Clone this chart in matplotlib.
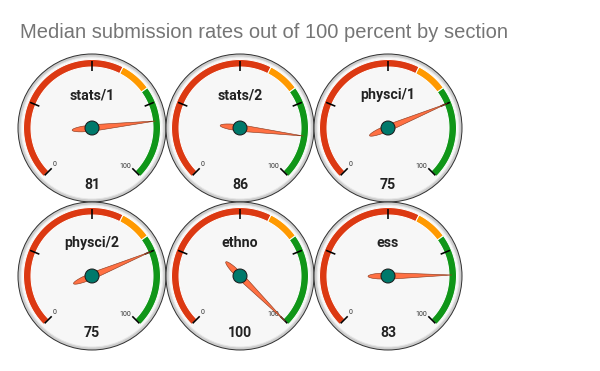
import numpy as np
import matplotlib
matplotlib.use("Agg")
import matplotlib.pyplot as plt
from matplotlib.patches import Polygon, Circle

# gauge data
sections = ['stats/1', 'stats/2', 'physci/1', 'physci/2', 'ethno', 'ess']
rates = [81, 86, 75, 75, 100, 83]
gauge_min, gauge_max = 0, 100
bands = [(0, 60, '#dc3912'), (60, 70, '#ff9900'), (70, 100, '#109618')]
major_ticks = [0, 25, 50, 75, 100]

title = 'Median submission rates out of 100 percent by section'

fig = plt.figure(figsize=(6, 3.71), dpi=100)
ax = fig.add_axes([0, 0, 1, 1])
ax.set_xlim(0, 600)
ax.set_ylim(371, 0)
ax.axis('off')
PX = 0.72  # one pixel in points


def ang(v):
    # degrees from top, clockwise
    return np.radians(-135 + 270 * (v - gauge_min) / (gauge_max - gauge_min))


def pt(cx, cy, r, a):
    return cx + r * np.sin(a), cy - r * np.cos(a)


def arc(cx, cy, r0, r1, v0, v1):
    t = np.linspace(ang(v0), ang(v1), 60)
    outer = np.column_stack([cx + r1 * np.sin(t), cy - r1 * np.cos(t)])
    inner = np.column_stack([cx + r0 * np.sin(t[::-1]), cy - r0 * np.cos(t[::-1])])
    return np.vstack([outer, inner])


def gauge(cx, cy, label, value):
    ax.add_patch(Circle((cx, cy), 74, fc='#cccccc', ec='#333333', lw=1 * PX))
    ax.add_patch(Circle((cx, cy), 71, fc='#f7f7f7', ec='#e6e6e6', lw=1 * PX))
    for v0, v1, c in bands:
        ax.add_patch(Polygon(arc(cx, cy, 61, 68.5, v0, v1), closed=True,
                             fc=c, ec='white', lw=1 * PX))
    for v in major_ticks:
        a = ang(v)
        x0, y0 = pt(cx, cy, 57, a)
        x1, y1 = pt(cx, cy, 67, a)
        ax.plot([x0, x1], [y0, y1], color='black', lw=1.6 * PX, solid_capstyle='butt')
    ax.text(cx - 39, cy + 38, str(gauge_min), fontsize=5, ha='left', va='baseline',
            family='Roboto', color='#333333')
    ax.text(cx + 39, cy + 40, str(gauge_max), fontsize=5, ha='right', va='baseline',
            family='Roboto', color='#333333')
    ax.text(cx, cy - 33, label, fontsize=10.2, fontweight='bold', ha='center',
            va='center', family='Roboto', color='#222222')
    ax.text(cx, cy + 57, str(value), fontsize=10.2, fontweight='bold', ha='center',
            va='center', family='Roboto', color='#222222')
    # needle
    a = ang(value)
    d = np.array([np.sin(a), -np.cos(a)])
    n = np.array([np.cos(a), np.sin(a)])
    c = np.array([cx, cy])
    s = np.linspace(-1, 1, 15)
    tail = [c - d * 20 * np.cos(np.arcsin(si)) + n * 3.2 * si for si in s]
    pts = [c + d * 64] + [c + n * 3.3] + tail[::-1] + [c - n * 3.3]
    ax.add_patch(Polygon(np.array(pts), closed=True, fc='#ff7043', ec='#8a3a1e',
                         lw=0.6 * PX, zorder=4))
    ax.add_patch(Circle((cx, cy), 7, fc='#00796b', ec='#1a1a1a', lw=1 * PX, zorder=5))


centers_x = [92, 240, 388]
centers_y = [128, 276]
for i, (lab, val) in enumerate(zip(sections, rates)):
    gauge(centers_x[i % 3], centers_y[i // 3], lab, val)

ax.text(20, 38, title, fontsize=14.5, color='#757575', family='Liberation Sans',
        ha='left', va='baseline')

fig.savefig('out.png', dpi=100)
